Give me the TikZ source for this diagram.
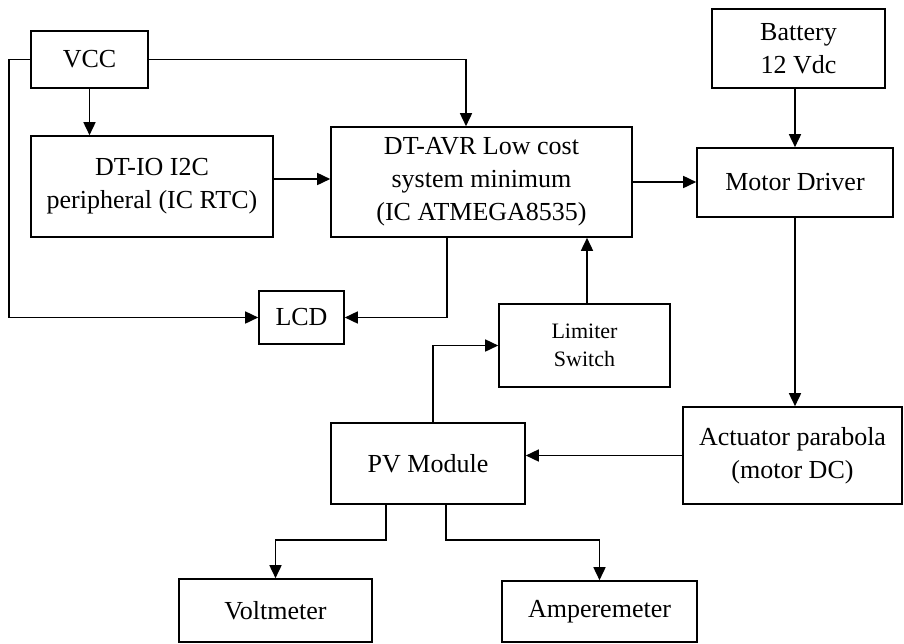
\documentclass[tikz,border=0pt]{standalone}
\usepackage{fontspec}
\setmainfont{Liberation Serif}
\usetikzlibrary{arrows.meta}
\begin{document}
\begin{tikzpicture}[x=1pt,y=-1pt,
  box/.style={draw,line width=1.6pt,inner sep=0pt,align=center,font=\fontsize{26}{33}\selectfont},
  smallbox/.style={box,font=\fontsize{22}{28}\selectfont},
  conn/.style={line width=1.6pt,-{Triangle[length=13pt,width=12pt]}}]
\useasboundingbox (0,0) rectangle (904,643);
\node[box,minimum width=117pt,minimum height=57pt] (vcc) at (89.5,59.5) {VCC};
\node[box,minimum width=242pt,minimum height=101pt] (dtio) at (152,186.5) {DT-IO I2C\\peripheral (IC RTC)};
\node[box,minimum width=301pt,minimum height=110pt] (avr) at (481.5,182) {DT-AVR Low cost\\system minimum\\(IC ATMEGA8535)};
\node[box,minimum width=173pt,minimum height=79pt] (bat) at (798.5,48.5) {Battery\\12 Vdc};
\node[box,minimum width=196pt,minimum height=69pt] (md) at (795,182.5) {Motor Driver};
\node[box,minimum width=85pt,minimum height=53pt] (lcd) at (301.5,317.5) {LCD};
\node[smallbox,minimum width=171pt,minimum height=83pt] (lim) at (584.5,345.5) {Limiter\\Switch};
\node[box,minimum width=219pt,minimum height=97pt] (act) at (792.5,455.5) {Actuator parabola\\(motor DC)};
\node[box,minimum width=194pt,minimum height=81pt] (pv) at (428,463.5) {PV Module};
\node[box,minimum width=193pt,minimum height=63pt] (volt) at (275.5,610.5) {Voltmeter};
\node[box,minimum width=195pt,minimum height=61pt] (amp) at (599.5,611.5) {Amperemeter};
% connectors
\draw[conn] (vcc.east) -| ([xshift=-15.5pt]avr.north);
\draw[conn] (vcc.south) -- (vcc.south |- dtio.north);
\draw[conn] (vcc.west) -- ++(-21,0) |- (lcd.west);
\draw[conn] ([yshift=7.5pt]dtio.east) -- ([yshift=7.5pt]dtio.east -| avr.west);
\draw[conn] (avr.east) -- (avr.east -| md.west);
\draw[conn] ([xshift=-34.5pt]avr.south) |- (lcd.east);
\draw[conn] (md.north |- bat.south) -- (md.north);
\draw[conn] (md.south) -- (md.south |- act.north);
\draw[conn] ([xshift=2.5pt]lim.north) -- ([xshift=2.5pt]lim.north |- avr.south);
\draw[conn] ([xshift=5pt]pv.north) |- (lim.west);
\draw[conn] (act.west) -- (act.west -| pv.east);
\draw[conn] ([xshift=-42pt]pv.south) -- ++(0,35) -| (volt.north);
\draw[conn] ([xshift=18pt]pv.south) -- ++(0,35) -| (amp.north);
\end{tikzpicture}
\end{document}
